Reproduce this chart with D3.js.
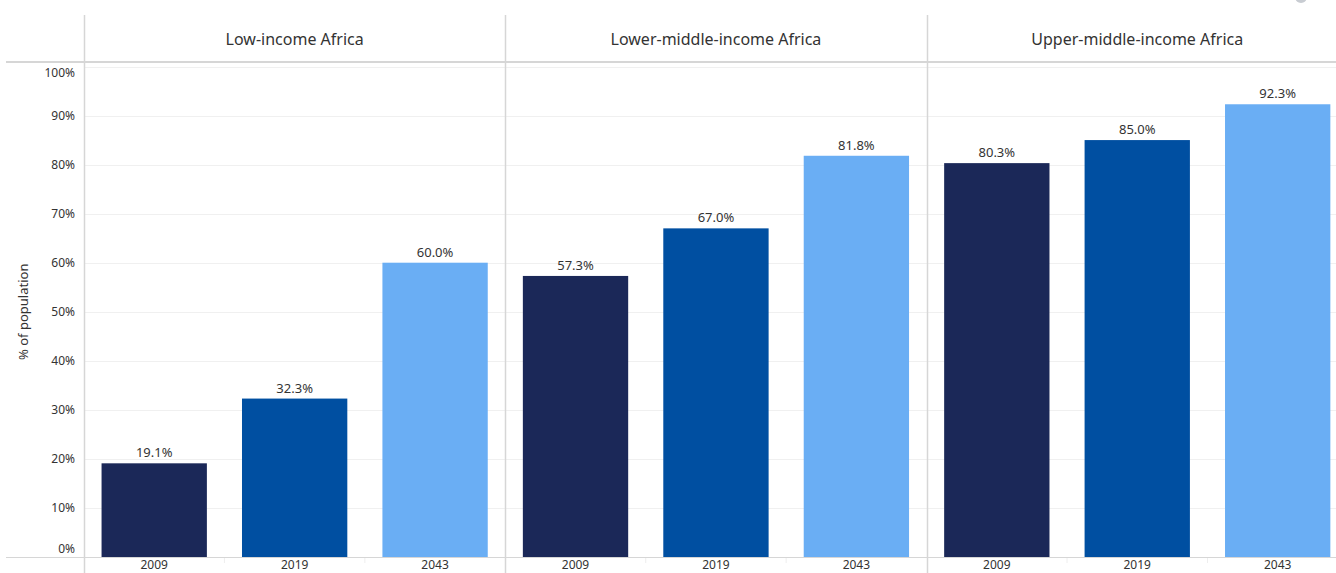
<!DOCTYPE html>
<html>
<head>
<meta charset="utf-8">
<script src="https://cdn.jsdelivr.net/npm/d3@7"></script>
<style>
  html, body { margin: 0; padding: 0; background: #fff; overflow: hidden; }
  svg { display: block; font-family: "Noto Sans", "Open Sans", sans-serif; }
</style>
</head>
<body>
<svg id="chart" width="1336" height="573"></svg>
<script>
// Share of population, by income group and year
const groups = ["Low-income Africa", "Lower-middle-income Africa", "Upper-middle-income Africa"];
const years = ["2009", "2019", "2043"];
const lowIncome = [19.1, 32.3, 60.0];
const lowerMiddleIncome = [57.3, 67.0, 81.8];
const upperMiddleIncome = [80.3, 85.0, 92.3];
const yTicks = [0, 10, 20, 30, 40, 50, 60, 70, 80, 90, 100];
const yearColors = ["#1b2858", "#004fa1", "#6aaef4"];

const values = [lowIncome, lowerMiddleIncome, upperMiddleIncome];

const W = 1336, H = 573;
const plotLeft = 84, panelWidth = 421.3;
const headerTop = 15, headerLine = 62;
const y0 = 557, y100 = 66.5;

const svg = d3.select("#chart");

const panelX = d3.scaleBand().domain(groups).range([plotLeft, plotLeft + panelWidth * groups.length]);
const yearX = d3.scaleBand().domain(years).range([0, panelX.bandwidth()]).paddingInner(0.25).paddingOuter(0.125);
const y = d3.scaleLinear().domain([0, 100]).range([y0, y100]);

// gridlines
svg.append("g").selectAll("line").data(yTicks).join("line")
  .attr("x1", plotLeft).attr("x2", W)
  .attr("y1", d => Math.round(y(d)) + 0.5).attr("y2", d => Math.round(y(d)) + 0.5)
  .attr("stroke", "#f0f0f0").attr("stroke-width", 1);

// small tick marks between year columns under the baseline
svg.append("g").selectAll("line")
  .data(groups.flatMap(g => [1, 2].map(i => panelX(g) + panelX.bandwidth() * i / 3)))
  .join("line")
  .attr("x1", d => d).attr("x2", d => d)
  .attr("y1", y0).attr("y2", y0 + 6)
  .attr("stroke", "#eeeeee");

// bars, value labels, year labels and panel headers
const panels = svg.append("g").selectAll("g.panel").data(groups).join("g")
  .attr("class", "panel")
  .attr("transform", d => `translate(${panelX(d)},0)`);

panels.each(function (g, gi) {
  const sel = d3.select(this);
  const rows = years.map((yr, i) => ({ yr, v: values[gi][i], i }));
  sel.selectAll("rect").data(rows).join("rect")
    .attr("x", d => yearX(d.yr))
    .attr("width", yearX.bandwidth())
    .attr("y", d => y(d.v))
    .attr("height", d => y0 - y(d.v))
    .attr("fill", d => yearColors[d.i]);
  sel.selectAll("text.val").data(rows).join("text")
    .attr("class", "val")
    .attr("x", d => yearX(d.yr) + yearX.bandwidth() / 2)
    .attr("y", d => y(d.v) - 6)
    .attr("text-anchor", "middle")
    .attr("font-size", 13)
    .attr("fill", "#333")
    .text(d => d3.format(".1f")(d.v) + "%");
  sel.selectAll("text.yr").data(rows).join("text")
    .attr("class", "yr")
    .attr("x", d => yearX(d.yr) + yearX.bandwidth() / 2)
    .attr("y", 568.5)
    .attr("text-anchor", "middle")
    .attr("font-size", 12)
    .attr("fill", "#333")
    .text(d => d.yr);
  sel.append("text")
    .attr("x", panelX.bandwidth() / 2)
    .attr("y", 45)
    .attr("text-anchor", "middle")
    .attr("font-size", 16)
    .attr("fill", "#333")
    .text(g);
});

// header and baseline rules
svg.append("line").attr("x1", 6).attr("x2", W).attr("y1", headerLine).attr("y2", headerLine)
  .attr("stroke", "#d6d6d6").attr("stroke-width", 2);
svg.append("line").attr("x1", 6).attr("x2", W).attr("y1", y0 + 0.5).attr("y2", y0 + 0.5)
  .attr("stroke", "#d6d6d6").attr("stroke-width", 1);

// panel dividers
svg.append("g").selectAll("line").data(groups).join("line")
  .attr("x1", d => Math.round(panelX(d)) + 0.5).attr("x2", d => Math.round(panelX(d)) + 0.5)
  .attr("y1", headerTop).attr("y2", H)
  .attr("stroke", "#d6d6d6").attr("stroke-width", 1.5);

// y axis
const yAxis = d3.axisLeft(y).tickValues(yTicks).tickSize(0).tickPadding(0)
  .tickFormat(d => d + "%");
const ya = svg.append("g").attr("transform", "translate(75,0)").call(yAxis);
ya.select(".domain").remove();
ya.selectAll("text")
  .attr("font-size", 12)
  .attr("font-family", "\"Noto Sans\", sans-serif")
  .attr("fill", "#333")
  .attr("dy", d => d === 0 ? "-0.4em" : d === 100 ? "0.85em" : "0.32em");

svg.append("text")
  .attr("transform", `translate(28,${(y0 + y100) / 2}) rotate(-90)`)
  .attr("text-anchor", "middle")
  .attr("font-size", 13)
  .attr("fill", "#333")
  .text("% of population");

// toolbar knob at top right
svg.append("circle").attr("cx", 1301).attr("cy", -3).attr("r", 6).attr("fill", "#c8ccd2");
</script>
</body>
</html>
